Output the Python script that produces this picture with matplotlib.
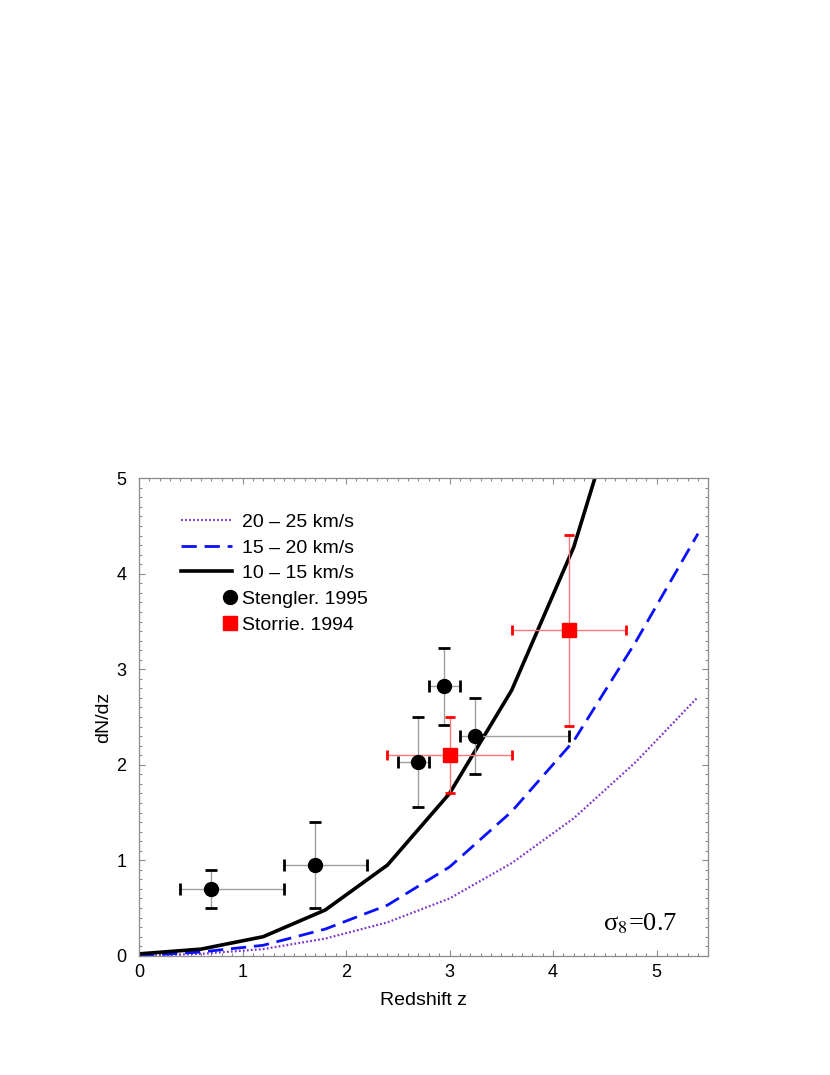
import matplotlib
matplotlib.use('Agg')
import matplotlib.pyplot as plt
from matplotlib.lines import Line2D
from matplotlib.legend_handler import HandlerLine2D
from matplotlib.ticker import MultipleLocator

plt.rcParams['font.family'] = ['Liberation Sans', 'DejaVu Sans']
plt.rcParams['mathtext.fontset'] = 'stix'

# Model curves (dN/dz vs redshift)
z_model = [0.0, 0.6, 1.2, 1.8, 2.4, 3.0, 3.6, 4.2, 4.8, 5.4]
dndz_20_25 = [0.0, 0.02, 0.07, 0.18, 0.35, 0.60, 0.97, 1.44, 2.03, 2.71]
dndz_15_20 = [0.0, 0.04, 0.11, 0.28, 0.53, 0.93, 1.51, 2.25, 3.29, 4.42]
dndz_10_15 = [0.02, 0.07, 0.20, 0.48, 0.95, 1.70, 2.78, 4.28, 6.40]

# Stengler 1995
st_z = [0.7, 1.7, 2.7, 2.95, 3.25]
st_dndz = [0.70, 0.95, 2.03, 2.82, 2.30]
st_zlo = [0.3, 0.3, 0.2, 0.15, 0.15]
st_zhi = [0.7, 0.5, 0.1, 0.15, 0.90]
st_err = [0.20, 0.45, 0.47, 0.40, 0.40]

# Storrie 1994
so_z = [3.0, 4.15]
so_dndz = [2.10, 3.41]
so_zerr = [0.6, 0.55]
so_err = [0.4, 1.0]


class EndMarkerHandler(HandlerLine2D):
    # put the legend marker at the right end of the handle
    def get_xdata(self, legend, xdescent, ydescent, width, height, fontsize):
        x = -xdescent + width - 0.1 * fontsize
        return [x, x], [x]


fig = plt.figure(figsize=(8.3, 10.75), dpi=100)
ax = fig.add_axes([0.1675, 0.1109, 0.6859, 0.4442])

ax.plot(z_model, dndz_20_25, ls=(0, (0.8, 1.0)), lw=1.6, color='#7a33cc')
ax.plot(z_model, dndz_15_20, ls=(0, (5.5, 2.8)), lw=2.0, color='#0a10ff')
ax.plot(z_model[:len(dndz_10_15)], dndz_10_15, ls='-', lw=2.6, color='black')

eb = ax.errorbar(st_z, st_dndz, xerr=[st_zlo, st_zhi], yerr=st_err, fmt='o',
                 color='black', ms=10, ecolor='#a0a0a0', elinewidth=1.0,
                 capsize=4.3, capthick=2.0, zorder=5)
for cap in eb[1]:
    cap.set_markeredgecolor('black')
    cap.set_markerfacecolor('black')

eb2 = ax.errorbar(so_z, so_dndz, xerr=so_zerr, yerr=so_err, fmt='s',
                  color='#ff0000', ms=10.5, ecolor='#ff7a7a', elinewidth=1.0,
                  capsize=3.8, capthick=2.0, zorder=5)
for cap in eb2[1]:
    cap.set_markeredgecolor('#ff0000')
    cap.set_markerfacecolor('#ff0000')

ax.set_xlim(0, 5.5)
ax.set_ylim(0, 5)
ax.xaxis.set_major_locator(MultipleLocator(1))
ax.xaxis.set_minor_locator(MultipleLocator(0.1))
ax.yaxis.set_major_locator(MultipleLocator(1))
ax.yaxis.set_minor_locator(MultipleLocator(0.1))
ax.tick_params(which='both', direction='in', top=True, right=True, color='#8c8c8c', width=0.8)
ax.tick_params(which='major', length=4, labelsize=13)
ax.tick_params(which='minor', length=2)
ax.tick_params(axis='x', which='major', pad=6)
ax.tick_params(axis='y', which='major', pad=9)
for sp in ax.spines.values():
    sp.set_color('#8c8c8c')
    sp.set_linewidth(0.9)

ax.set_xlabel('Redshift z', fontsize=14, labelpad=8)
ax.set_ylabel('dN/dz', fontsize=14, labelpad=3)

ax.text(0.8145, 0.0526, r'σ$_{\mathrm{8}}$=0.7', transform=ax.transAxes,
        fontsize=19, family='Liberation Serif', va='baseline')

handles = [
    Line2D([], [], ls=(0, (0.8, 1.0)), lw=1.6, color='#7a33cc'),
    Line2D([], [], ls=(0, (5.5, 2.8)), lw=2.0, color='#0a10ff'),
    Line2D([], [], ls='-', lw=2.6, color='black'),
    Line2D([], [], ls='none', marker='o', ms=10, color='black'),
    Line2D([], [], ls='none', marker='s', ms=10.5, color='#ff0000'),
]
labels = ['20 \u2013 25 km/s', '15 \u2013 20 km/s', '10 \u2013 15 km/s',
          'Stengler. 1995', 'Storrie. 1994']
ax.legend(handles, labels, loc='upper left', bbox_to_anchor=(0.074, 0.927),
          frameon=False, fontsize=14, handlelength=2.6, handletextpad=0.55,
          labelspacing=0.42, borderpad=0, borderaxespad=0, numpoints=1,
          handler_map={handles[3]: EndMarkerHandler(), handles[4]: EndMarkerHandler()})

fig.savefig('out.png', dpi=100)
